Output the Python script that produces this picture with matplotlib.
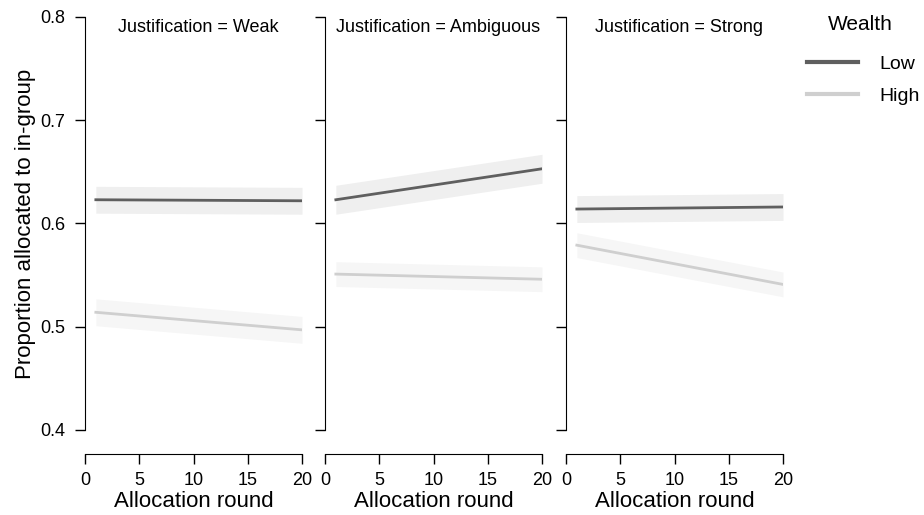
import matplotlib
matplotlib.use("Agg")
import matplotlib.pyplot as plt
from matplotlib import font_manager
from matplotlib.lines import Line2D
import numpy as np

# pick a narrow sans if one is around
names = {f.name for f in font_manager.fontManager.ttflist}
plt.rcParams['font.family'] = ['Liberation Sans Narrow'] if 'Liberation Sans Narrow' in names else ['Liberation Sans', 'DejaVu Sans']

# values: fitted line at round 1 and round 20, band half-width
panels = ["Weak", "Ambiguous", "Strong"]
rounds = [1, 20]
low_start = [0.623, 0.623, 0.614]
low_end = [0.622, 0.653, 0.616]
high_start = [0.514, 0.551, 0.579]
high_end = [0.497, 0.546, 0.541]
band_low = [0.013, 0.014, 0.013]
band_high = [0.013, 0.012, 0.012]

low_col = '#5f5f5f'
high_col = '#cfcfcf'

fig = plt.figure(figsize=(9.24, 5.15), dpi=100)
W, H = 924, 515
lefts = [85, 325, 566]
width = 217
top_px, bot_px = 17, 430

for i, name in enumerate(panels):
    ax = fig.add_axes([lefts[i] / W, 1 - bot_px / H, width / W, (bot_px - top_px) / H])
    x = np.array(rounds)
    lo = np.array([low_start[i], low_end[i]])
    hi = np.array([high_start[i], high_end[i]])
    ax.fill_between(x, hi - band_high[i], hi + band_high[i], color='#f6f6f6', lw=0)
    ax.fill_between(x, lo - band_low[i], lo + band_low[i], color='#efefef', lw=0)
    ax.plot(x, hi, color=high_col, lw=2)
    ax.plot(x, lo, color=low_col, lw=2)

    ax.set_xlim(0, 20)
    ax.set_ylim(0.4, 0.8)
    ax.spines['top'].set_visible(False)
    ax.spines['right'].set_visible(False)
    ax.spines['bottom'].set_position(('outward', 17))
    ax.spines['bottom'].set_bounds(0, 20)
    ax.spines['left'].set_bounds(0.4, 0.8)
    ax.set_xticks([0, 5, 10, 15, 20])
    ax.set_yticks([0.4, 0.5, 0.6, 0.7, 0.8])
    ax.tick_params(axis='x', length=7, width=1, pad=6, labelsize=13)
    ax.tick_params(axis='y', length=7, width=1, pad=7, labelsize=13)
    if i == 0:
        ax.set_yticklabels(['0.4', '0.5', '0.6', '0.7', '0.8'])
        ax.set_ylabel('Proportion allocated to in-group', fontsize=16, labelpad=3)
    else:
        ax.set_yticklabels([])
    ax.set_xlabel('Allocation round', fontsize=16, labelpad=2)
    ax.text(0.52, 0.995, 'Justification = ' + name, transform=ax.transAxes,
            ha='center', va='top', fontsize=13)

handles = [Line2D([], [], color=low_col, lw=3),
           Line2D([], [], color=high_col, lw=3)]
fig.text(828 / W, 1 - 25 / H, 'Wealth', ha='left', va='center', fontsize=15)
fig.legend(handles, ['Low', 'High'], loc='upper left',
           bbox_to_anchor=(807 / W, 1 - 55 / H), frameon=False,
           fontsize=14, handlelength=2.6, borderpad=0, borderaxespad=0,
           labelspacing=0.75, handletextpad=1.1)

fig.savefig('out.png', dpi=100)
